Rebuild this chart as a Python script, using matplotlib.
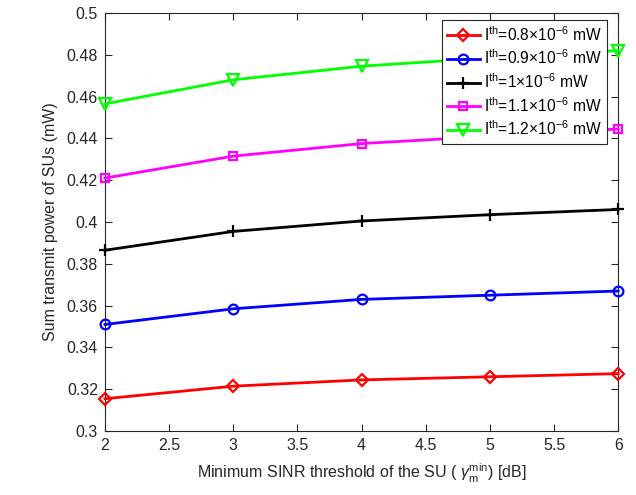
import matplotlib
matplotlib.use("Agg")
import matplotlib.pyplot as plt

# ─── Data ────────────────────────────────────────────────────────────────────
sinr_db = [2, 3, 4, 5, 6]

p_08 = [0.3155, 0.3215, 0.3245, 0.3260, 0.3275]
p_09 = [0.3510, 0.3585, 0.3630, 0.3650, 0.3670]
p_10 = [0.3865, 0.3955, 0.4005, 0.4035, 0.4060]
p_11 = [0.4210, 0.4315, 0.4375, 0.4410, 0.4445]
p_12 = [0.4565, 0.4680, 0.4745, 0.4785, 0.4820]

labels = [
    r"$\mathregular{I^{th}}$=0.8$\mathregular{\times}$10$\mathregular{^{-6}}$ mW",
    r"$\mathregular{I^{th}}$=0.9$\mathregular{\times}$10$\mathregular{^{-6}}$ mW",
    r"$\mathregular{I^{th}}$=1$\mathregular{\times}$10$\mathregular{^{-6}}$ mW",
    r"$\mathregular{I^{th}}$=1.1$\mathregular{\times}$10$\mathregular{^{-6}}$ mW",
    r"$\mathregular{I^{th}}$=1.2$\mathregular{\times}$10$\mathregular{^{-6}}$ mW",
]

# ─── Style ───────────────────────────────────────────────────────────────────
plt.rcParams.update({
    "font.family": ["Liberation Sans", "DejaVu Sans"],
    "mathtext.fontset": "custom",
    "mathtext.rm": "Liberation Sans",
    "mathtext.it": "Liberation Sans:italic",
    "font.size": 11,
    "xtick.direction": "in",
    "ytick.direction": "in",
    "xtick.top": True,
    "ytick.right": True,
})

fig = plt.figure(figsize=(6.36, 4.95), dpi=100)
ax = fig.add_axes([0.165, 0.129, 0.807, 0.845])

series = [
    (p_08, "#ff0000", "D", 6),
    (p_09, "#0000ff", "o", 7),
    (p_10, "#000000", "+", 9),
    (p_11, "#ff00ff", "s", 6),
    (p_12, "#00ff00", "v", 8),
]
for (vals, col, mk, ms), lab in zip(series, labels):
    ax.plot(sinr_db, vals, color=col, lw=2, marker=mk, ms=ms,
            mfc="none", mec=col, mew=1.6, label=lab, clip_on=False, zorder=3)

ax.set_xlim(2, 6)
ax.set_ylim(0.3, 0.5)
ax.set_xticks([2, 2.5, 3, 3.5, 4, 4.5, 5, 5.5, 6])
ax.set_xticklabels(["2", "2.5", "3", "3.5", "4", "4.5", "5", "5.5", "6"])
ax.set_yticks([0.3, 0.32, 0.34, 0.36, 0.38, 0.4, 0.42, 0.44, 0.46, 0.48, 0.5])
ax.set_yticklabels(["0.3", "0.32", "0.34", "0.36", "0.38", "0.4", "0.42",
                    "0.44", "0.46", "0.48", "0.5"])
for sp in ax.spines.values():
    sp.set_color("#262626")
    sp.set_linewidth(0.8)
ax.tick_params(colors="#262626", length=5, width=0.8, labelsize=11.5, pad=5)

ax.set_xlabel(r"Minimum SINR threshold of the SU ( $\gamma_{\mathregular{m}}^{\mathregular{min}}$) [dB]",
              fontsize=11.5, color="#262626", labelpad=6)
ax.set_ylabel("Sum transmit power of SUs (mW)", fontsize=11.5, color="#262626", labelpad=6)

leg = ax.legend(loc="upper right", bbox_to_anchor=(0.988, 0.995), fontsize=11.2,
                frameon=True, fancybox=False, edgecolor="#262626", framealpha=1,
                handlelength=2.1, handletextpad=0.3, labelspacing=0.32,
                borderpad=0.35, borderaxespad=0.3)
leg.get_frame().set_linewidth(0.8)
leg.set_zorder(5)

fig.savefig("out.png", dpi=100)
